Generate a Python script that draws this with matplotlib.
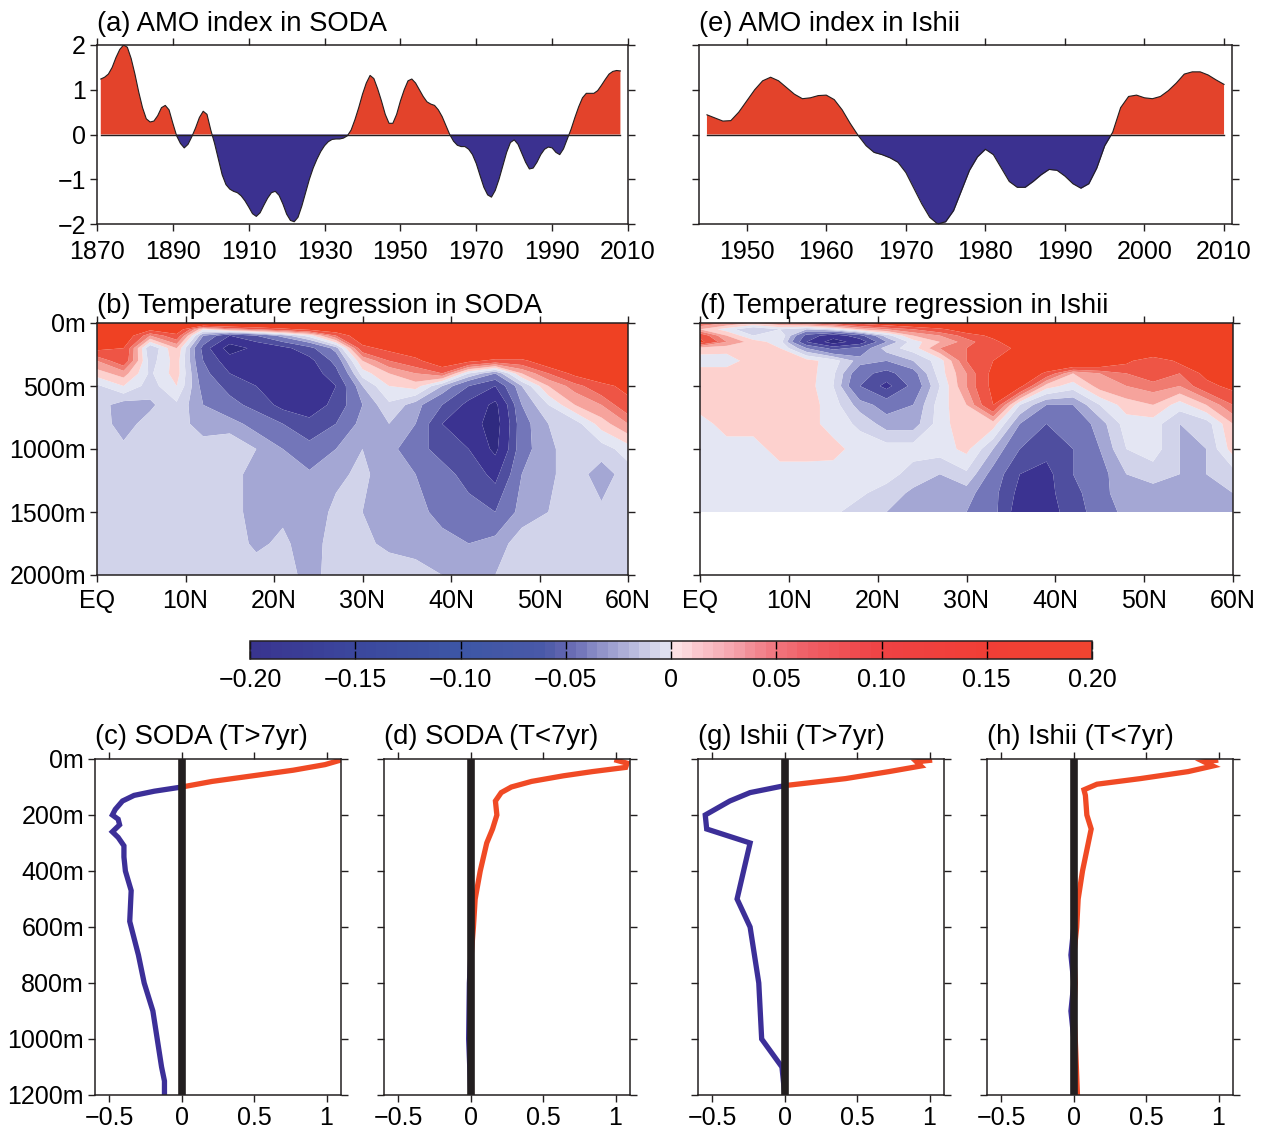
import numpy as np
import matplotlib
matplotlib.use("Agg")
import matplotlib.pyplot as plt
from matplotlib.colors import LinearSegmentedColormap, ListedColormap, BoundaryNorm
from matplotlib.cm import ScalarMappable

plt.rcParams['font.family'] = ['Liberation Sans', 'DejaVu Sans']
plt.rcParams['font.size'] = 18
plt.rcParams['axes.linewidth'] = 1.1
plt.rcParams['axes.edgecolor'] = '#231f20'

# ---- AMO index (a) SODA, (e) Ishii ----
soda_years = list(range(1871, 2009))
soda_amo = [1.24, 1.28, 1.35, 1.5, 1.72, 1.9, 2.0, 1.95, 1.7, 1.35,
            0.95, 0.6, 0.35, 0.28, 0.3, 0.42, 0.6, 0.65, 0.55, 0.25,
            -0.03, -0.2, -0.3, -0.22, -0.05, 0.15, 0.38, 0.52, 0.45, 0.1,
            -0.2, -0.55, -0.9, -1.12, -1.22, -1.27, -1.3, -1.37, -1.48, -1.62,
            -1.77, -1.83, -1.75, -1.58, -1.42, -1.3, -1.27, -1.36, -1.55, -1.78,
            -1.92, -1.95, -1.85, -1.6, -1.3, -1.0, -0.75, -0.55, -0.38, -0.25,
            -0.16, -0.11, -0.1, -0.1, -0.08, -0.03, 0.1, 0.33, 0.6, 0.9,
            1.15, 1.32, 1.25, 1.02, 0.75, 0.45, 0.25, 0.25, 0.45, 0.75,
            1.0, 1.2, 1.24, 1.15, 1.0, 0.85, 0.73, 0.68, 0.65, 0.55,
            0.4, 0.2, 0.0, -0.15, -0.24, -0.27, -0.27, -0.33, -0.45, -0.65,
            -0.92, -1.18, -1.35, -1.4, -1.25, -1.0, -0.7, -0.4, -0.18, -0.12,
            -0.22, -0.42, -0.62, -0.77, -0.75, -0.62, -0.45, -0.33, -0.28, -0.3,
            -0.4, -0.45, -0.32, -0.1, 0.12, 0.38, 0.62, 0.82, 0.92, 0.92,
            0.92, 0.98, 1.1, 1.23, 1.35, 1.41, 1.43, 1.42]

ishii_years = list(range(1945, 2011))
ishii_amo = [0.44, 0.37, 0.30, 0.31, 0.5, 0.75, 1.0, 1.2, 1.28, 1.2,
             1.05, 0.9, 0.8, 0.82, 0.87, 0.88, 0.78, 0.55, 0.25, -0.02,
             -0.25, -0.4, -0.45, -0.52, -0.62, -0.85, -1.2, -1.55, -1.85, -2.0,
             -1.95, -1.7, -1.25, -0.8, -0.5, -0.33, -0.45, -0.75, -1.05, -1.18,
             -1.18, -1.05, -0.9, -0.78, -0.8, -0.93, -1.1, -1.2, -1.1, -0.75,
             -0.25, 0.05, 0.6, 0.85, 0.88, 0.82, 0.8, 0.85, 0.98, 1.15,
             1.35, 1.4, 1.4, 1.33, 1.22, 1.12]

# ---- regression sections (b) SODA, (f) Ishii ----
lats = [0, 3, 6, 9, 12, 15, 18, 21, 24, 27, 30, 33, 36, 39, 42, 45, 48, 51, 54, 57, 60]
soda_depth = [0, 50, 100, 200, 300, 400, 500, 650, 800, 1000, 1200, 1500, 1750, 2000]
soda_reg = [
    [.08, .08, .08, .08, .08, .08, .08, .08, .08, .08, .08, .08, .08, .08, .08, .08, .08, .08, .08, .08, .08],
    [.08, .08, .05, .06, .0, .02, .03, .04, .05, .06, .08, .08, .08, .08, .08, .08, .08, .08, .08, .08, .08],
    [.08, .06, .02, .04, -.03, -.06, -.045, -.025, -.005, .03, .06, .08, .08, .08, .08, .08, .08, .08, .08, .08, .08],
    [.05, .045, -.02, .01, -.05, -.09, -.075, -.065, -.05, -.025, .04, .05, .06, .08, .08, .08, .08, .08, .08, .08, .08],
    [.02, .04, -.015, .005, -.045, -.07, -.075, -.07, -.065, -.04, .01, .03, .04, .06, .05, .04, .04, .06, .08, .08, .08],
    [.005, .015, -.012, .005, -.04, -.06, -.07, -.075, -.07, -.05, -.005, .01, .02, .03, -.01, -.03, .01, .03, .05, .06, .08],
    [-.012, .0, -.015, .0, -.035, -.05, -.06, -.07, -.07, -.06, -.02, .0, .005, -.02, -.045, -.06, -.02, .01, .025, .04, .05],
    [-.015, -.025, -.022, -.012, -.03, -.04, -.05, -.065, -.07, -.055, -.03, -.012, -.025, -.045, -.065, -.085, -.03, -.01, .01, .02, .04],
    [-.015, -.024, -.016, -.015, -.025, -.025, -.035, -.045, -.055, -.045, -.025, -.02, -.03, -.06, -.07, -.09, -.035, -.02, -.015, .005, .02],
    [-.015, -.018, -.015, -.015, -.015, -.012, -.02, -.03, -.04, -.03, -.02, -.025, -.04, -.05, -.06, -.085, -.035, -.022, -.015, -.015, -.005],
    [-.015, -.015, -.015, -.015, -.015, -.015, -.025, -.02, -.028, -.022, -.018, -.025, -.03, -.04, -.05, -.065, -.03, -.022, -.015, -.025, -.015],
    [-.015, -.015, -.015, -.015, -.015, -.015, -.025, -.022, -.025, -.018, -.02, -.025, -.025, -.035, -.04, -.045, -.025, -.02, -.015, -.018, -.015],
    [-.015, -.015, -.015, -.015, -.015, -.015, -.022, -.018, -.025, -.015, -.018, -.022, -.022, -.025, -.03, -.025, -.015, -.015, -.015, -.015, -.015],
    [-.015, -.015, -.015, -.015, -.015, -.015, -.015, -.015, -.024, -.015, -.015, -.015, -.018, -.02, -.022, -.02, -.015, -.015, -.015, -.015, -.015],
]
ishii_depth = [0, 50, 100, 150, 200, 300, 400, 500, 650, 800, 1000, 1200, 1350, 1500]
ishii_reg = [
    [.03, .02, .01, .02, .03, .04, .05, .06, .07, .08, .08, .08, .08, .08, .08, .08, .08, .08, .08, .08, .08],
    [.01, -.005, -.02, -.01, -.02, -.01, .01, .02, .03, .04, .06, .08, .08, .08, .08, .08, .08, .08, .08, .08, .08],
    [.04, .01, -.01, .0, -.05, -.07, -.05, -.015, .01, .02, .035, .05, .08, .08, .08, .08, .08, .08, .08, .08, .08],
    [.05, .02, .005, -.005, -.06, -.09, -.07, -.03, -.005, .01, .025, .04, .06, .08, .08, .08, .08, .08, .08, .08, .08],
    [.005, .004, .006, .0, -.03, -.05, -.04, -.015, -.005, .02, .03, .035, .05, .08, .08, .08, .08, .08, .08, .08, .08],
    [-.005, -.005, .005, .005, .004, -.005, -.025, -.03, -.02, -.005, .03, .045, .06, .08, .08, .07, .05, .03, .05, .07, .08],
    [.005, .005, .005, .005, .005, -.008, -.04, -.05, -.035, -.005, .02, .05, .07, .04, .01, .02, .03, .04, .03, .05, .08],
    [.005, .005, .005, .005, .005, -.01, -.045, -.065, -.04, -.01, .02, .05, .05, .005, -.005, .015, .02, .025, .02, .04, .05],
    [.005, .005, .005, .005, .005, -.005, -.025, -.035, -.03, -.005, .01, .045, -.01, -.03, -.03, -.01, .005, .01, -.005, .01, .03],
    [-.005, .005, .005, .005, .005, -.005, -.012, -.025, -.025, -.005, .008, .005, -.03, -.045, -.04, -.025, -.005, -.005, -.02, -.015, .01],
    [-.005, -.005, -.005, .005, .005, .004, -.005, -.005, -.005, -.005, .003, -.02, -.045, -.055, -.045, -.03, -.01, -.005, -.02, -.02, .005],
    [-.005, -.005, -.005, -.005, -.005, -.005, -.005, -.005, -.015, -.02, -.012, -.035, -.06, -.065, -.045, -.035, -.02, -.015, -.02, -.02, -.015],
    [-.005, -.005, -.005, -.005, -.005, -.005, -.008, -.015, -.022, -.025, -.025, -.04, -.065, -.065, -.05, -.035, -.022, -.025, -.025, -.022, -.02],
    [-.005, -.005, -.005, -.005, -.005, -.008, -.015, -.02, -.025, -.025, -.03, -.04, -.07, -.07, -.05, -.04, -.025, -.03, -.03, -.03, -.03],
]
reg_levels = [-1, -0.08, -0.06, -0.045, -0.03, -0.02, -0.01, 0, 0.01, 0.02, 0.03, 0.045, 1]
reg_colors = ['#2f2a80', '#3b3391', '#4f4e9f', '#7376b9', '#a4a7d4', '#d1d3ea',
              '#e4e6f3', '#fdd1ce', '#f6a39c', '#f07b70', '#ee5545', '#ef4123']

# ---- vertical profiles (c), (d), (g), (h) ----
soda_lf_depth = [5, 20, 40, 60, 80, 100, 115, 130, 150, 180, 200, 215, 235, 260, 280,
                 310, 350, 400, 470, 580, 700, 800, 900, 1000, 1100, 1150, 1200]
soda_lf = [1.09, 0.99, 0.77, 0.49, 0.21, 0.0, -0.19, -0.33, -0.41, -0.46, -0.48, -0.44, -0.43, -0.48, -0.44,
           -0.40, -0.40, -0.39, -0.35, -0.36, -0.30, -0.26, -0.20, -0.17, -0.14, -0.12, -0.12]
soda_hf_depth = [5, 15, 30, 45, 60, 80, 100, 120, 150, 200, 250, 300, 400, 500, 600, 700, 800, 1000, 1200]
soda_hf = [1.01, 1.08, 1.07, 0.84, 0.64, 0.42, 0.28, 0.21, 0.17, 0.18, 0.15, 0.11, 0.065, 0.03, 0.018,
           0.003, -0.01, -0.015, 0.005]
ishii_lf_depth = [5, 10, 25, 45, 70, 95, 120, 150, 200, 250, 300, 500, 600, 700, 800, 1000, 1100, 1200]
ishii_lf = [1.0, 0.91, 0.94, 0.72, 0.42, 0.0, -0.24, -0.38, -0.55, -0.54, -0.24, -0.33, -0.24, -0.21,
            -0.18, -0.16, -0.02, 0.0]
ishii_hf_depth = [5, 10, 25, 45, 70, 90, 110, 130, 200, 250, 400, 500, 600, 700, 800, 900, 1000, 1200]
ishii_hf = [0.98, 0.90, 0.96, 0.79, 0.46, 0.16, 0.07, 0.08, 0.09, 0.12, 0.06, 0.03, 0.02, -0.02,
            0.01, -0.02, 0.01, 0.025]

# ---- colorbar ----
cbar_vals = [-0.2, -0.15, -0.1, -0.06, -0.05, -0.04, -0.03, -0.02, -0.01, 0.0,
             0.0001, 0.01, 0.02, 0.03, 0.04, 0.05, 0.07, 0.1, 0.15, 0.2]
cbar_cols = ['#39348f', '#3b479d', '#3d56a5', '#4a59a8', '#6467b1', '#7b7fbf', '#989acc', '#b5b6db',
             '#cdcde7', '#e6e7f3', '#fde6e9', '#fbd0d5', '#f8b9c1', '#f5a2ab', '#f28b95', '#f0747d',
             '#ee5a60', '#ee4244', '#ef3e36', '#ef4430']
cbar_ticks = [-0.2, -0.15, -0.1, -0.05, 0, 0.05, 0.1, 0.15, 0.2]
cbar_labels = ['\u22120.20', '\u22120.15', '\u22120.10', '\u22120.05', '0', '0.05', '0.10', '0.15', '0.20']

lat_ticks = [0, 10, 20, 30, 40, 50, 60]
lat_labels = ['EQ', '10N', '20N', '30N', '40N', '50N', '60N']
sec_ticks = [0, 500, 1000, 1500, 2000]
sec_labels = ['0m', '500m', '1000m', '1500m', '2000m']
prof_ticks = [0, 200, 400, 600, 800, 1000, 1200]
prof_labels = ['0m', '200m', '400m', '600m', '800m', '1000m', '1200m']
px_ticks = [-0.5, 0, 0.5, 1]
px_labels = ['\u22120.5', '0', '0.5', '1']

RED = '#e3432b'
BLUE = '#3b3190'
LRED = '#f04a25'
LBLUE = '#3c2f98'
TITLE_SIZE = 19.8

fig = plt.figure(figsize=(12.62, 11.29), dpi=100)
W, H = 1262, 1129


def px_axes(left, top, right, bottom):
    return fig.add_axes([left / W, 1 - bottom / H, (right - left) / W, (bottom - top) / H])


def style(ax, xpad):
    ax.tick_params(direction='out', length=5, width=1.0, top=True, right=True,
                   labelsize=18, pad=3, color='#231f20')
    ax.tick_params(axis='x', pad=xpad)


def amo(ax, years, vals, title, xticks, ylabels):
    years = np.asarray(years, float)
    vals = np.asarray(vals, float)
    ax.fill_between(years, vals, 0, where=vals >= 0, interpolate=True, color=RED, lw=0)
    ax.fill_between(years, vals, 0, where=vals <= 0, interpolate=True, color=BLUE, lw=0)
    ax.plot(years, vals, color='#231f20', lw=0.8)
    ax.plot([years[0], years[-1]], [0, 0], color='#231f20', lw=1.0)
    ax.set_ylim(-2, 2)
    ax.set_yticks([-2, -1, 0, 1, 2])
    ax.set_xticks(xticks)
    if not ylabels:
        ax.set_yticklabels([])
    style(ax, 6.5)
    ax.set_title(title, loc='left', fontsize=TITLE_SIZE, pad=10)


def section(ax, depth, field, title, ylabels):
    ax.contourf(lats, depth, np.array(field), levels=reg_levels, colors=reg_colors, antialiased=True)
    ax.set_xlim(0, 60)
    ax.set_ylim(2000, 0)
    ax.set_xticks(lat_ticks, lat_labels)
    ax.set_yticks(sec_ticks, sec_labels if ylabels else [''] * len(sec_ticks))
    style(ax, 5)
    ax.set_title(title, loc='left', fontsize=TITLE_SIZE, pad=7)


def profile(ax, x, z, title, ylabels):
    x = np.asarray(x, float)
    ax.plot(np.clip(x, 0, None), z, color=LRED, lw=3.8, solid_joinstyle='miter')
    ax.plot(np.clip(x, None, 0), z, color=LBLUE, lw=3.8, solid_joinstyle='miter')
    ax.axvline(0, color='#231f20', lw=5.5)
    ax.set_xlim(-0.6, 1.1)
    ax.set_ylim(1200, 0)
    ax.set_xticks(px_ticks, px_labels)
    ax.set_yticks(prof_ticks, prof_labels if ylabels else [''] * len(prof_ticks))
    style(ax, 3)
    ax.set_title(title, loc='left', fontsize=TITLE_SIZE, pad=11)


ax_a = px_axes(97, 45, 628, 224)
amo(ax_a, soda_years, soda_amo, '(a) AMO index in SODA', list(range(1870, 2011, 20)), True)
ax_a.set_xlim(1870, 2010)

ax_e = px_axes(699, 45, 1232, 224)
amo(ax_e, ishii_years, ishii_amo, '(e) AMO index in Ishii', list(range(1950, 2011, 10)), False)
ax_e.set_xlim(1944, 2011)

ax_b = px_axes(97, 323, 628, 575)
section(ax_b, soda_depth, soda_reg, '(b) Temperature regression in SODA', True)

ax_f = px_axes(700, 323, 1233, 575)
section(ax_f, ishii_depth, ishii_reg, '(f) Temperature regression in Ishii', False)

# colorbar
pos = [(v + 0.2) / 0.4 for v in cbar_vals]
base = LinearSegmentedColormap.from_list('amo', list(zip(pos, cbar_cols)))
bounds = np.linspace(-0.2, 0.2, 81)
cmap = ListedColormap(base((bounds[:-1] + bounds[1:]) / 2 / 0.4 + 0.5))
norm = BoundaryNorm(bounds, cmap.N)
cax = px_axes(250, 641, 1092, 659)
cb = fig.colorbar(ScalarMappable(norm=norm, cmap=cmap), cax=cax, orientation='horizontal')
cb.set_ticks(cbar_ticks, labels=cbar_labels)
cb.outline.set_linewidth(1.1)
cax.xaxis.set_ticks_position('both')
cax.tick_params(direction='in', length=6, width=1.0, labelsize=18, labeltop=False, pad=6.5)
cax.minorticks_off()

ax_c = px_axes(95, 759, 341, 1095)
profile(ax_c, soda_lf, soda_lf_depth, '(c) SODA (T>7yr)', True)
ax_d = px_axes(384, 759, 630, 1095)
profile(ax_d, soda_hf, soda_hf_depth, '(d) SODA (T<7yr)', False)
ax_g = px_axes(698, 759, 944, 1095)
profile(ax_g, ishii_lf, ishii_lf_depth, '(g) Ishii (T>7yr)', False)
ax_h = px_axes(987, 759, 1233, 1095)
profile(ax_h, ishii_hf, ishii_hf_depth, '(h) Ishii (T<7yr)', False)

fig.savefig('out.png', dpi=100)
